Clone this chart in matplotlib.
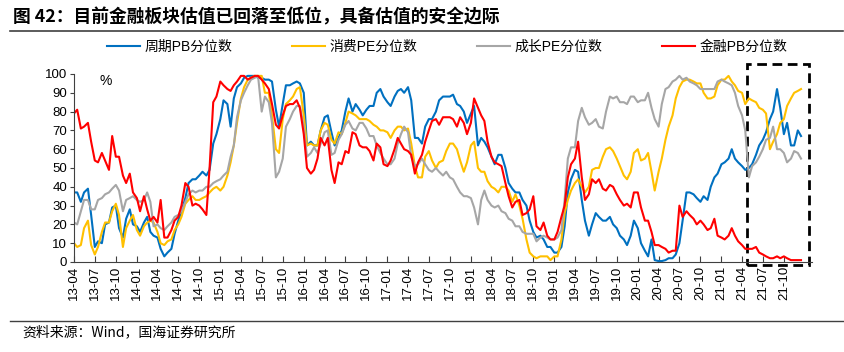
import matplotlib
matplotlib.use('Agg')
import matplotlib.pyplot as plt
import matplotlib.dates as mdates
from matplotlib.patches import Rectangle
from matplotlib.lines import Line2D
import pandas as pd

# 半月度分位数数据（2013-04 起）
blue = [
    37, 37, 32, 37, 39, 25, 8, 11, 10, 20, 21, 29, 30, 18, 13, 23, 28, 20, 19, 16,
    21, 24, 16, 14, 13, 7, 3, 5, 7, 15, 22, 27, 34, 42, 44,
    44, 46, 48, 46, 49, 63, 68, 76, 86, 84, 72, 87, 93, 95, 98, 99, 99, 99, 98, 98,
    97, 97, 96, 81, 72, 84, 94, 94, 95, 96, 95, 90, 62, 64, 62,
    62, 70, 77, 78, 69, 62, 66, 70, 80, 87, 80, 84, 81, 78, 81, 83, 83, 90, 92, 88,
    85, 83, 88, 91, 92, 90, 93, 86, 66, 66, 63, 72, 76, 76, 80,
    86, 88, 88, 88, 89, 84, 83, 80, 74, 79, 83, 62, 66, 64, 61, 56, 52, 57, 57, 50,
    42, 39, 37, 37, 33, 30, 22, 16, 13, 14, 12, 8, 8, 5, 5,
    8, 19, 37, 44, 49, 48, 33, 22, 14, 20, 26, 24, 22, 22, 24, 20, 18, 14, 12, 9,
    14, 22, 18, 10, 6, 3, 12, 1, 0.5, 0.5, 1, 2, 2, 4, 10,
    22, 37, 37, 36, 34, 32, 35, 33, 40, 45, 47, 52, 53, 55, 60, 55, 53, 51, 49, 50,
    52, 57, 62, 65, 69, 76, 80, 92, 82, 68, 74, 62, 62, 70, 67,
]
yellow = [
    10, 8, 9, 18, 22, 9, 4, 8, 16, 21, 21, 27, 31, 25, 8, 18, 22, 25, 17, 14,
    19, 21, 22, 21, 16, 10, 9, 11, 12, 17, 20, 24, 31, 33, 35,
    33, 33, 34, 35, 37, 39, 40, 38, 40, 46, 53, 62, 74, 87, 93, 97, 98, 99, 99, 99,
    90, 90, 78, 60, 58, 76, 84, 86, 88, 92, 93, 78, 62, 63, 62,
    62, 70, 74, 73, 65, 63, 69, 68, 74, 80, 79, 78, 76, 76, 76, 75, 73, 72, 70, 70,
    69, 66, 70, 72, 72, 70, 71, 63, 51, 45, 45, 56, 59, 54, 50,
    53, 54, 59, 63, 63, 60, 54, 48, 53, 62, 64, 50, 48, 48, 43, 40, 39, 37, 40, 40,
    38, 32, 36, 30, 23, 12, 5, 3, 2, 3, 3, 3, 1, 3, 3,
    12, 26, 33, 38, 42, 44, 40, 37, 40, 49, 50, 50, 56, 60, 61, 59, 55, 51, 46, 44,
    48, 58, 60, 54, 55, 58, 48, 38, 48, 55, 65, 72, 78, 87, 93,
    96, 97, 97, 96, 95, 95, 90, 87, 87, 88, 94, 97, 97, 99, 96, 94, 91, 90, 84, 87,
    86, 85, 82, 81, 79, 60, 64, 68, 74, 76, 83, 87, 90, 91, 92,
]
gray = [
    21, 20, 27, 33, 33, 28, 28, 33, 34, 36, 37, 39, 41, 38, 27, 33, 34, 35, 33, 32,
    33, 37, 32, 19, 20, 18, 17, 19, 21, 24, 25, 27, 32, 36, 38,
    37, 38, 38, 40, 40, 42, 43, 44, 46, 48, 56, 62, 77, 86, 90, 94, 97, 98, 99, 80,
    88, 85, 74, 45, 48, 55, 72, 76, 80, 83, 83, 72, 56, 58, 61,
    58, 63, 69, 70, 57, 58, 65, 68, 73, 75, 71, 70, 74, 74, 71, 67, 67, 62, 58, 55,
    52, 52, 55, 63, 68, 72, 69, 56, 51, 52, 55, 52, 49, 48, 50,
    48, 46, 48, 45, 44, 40, 37, 35, 35, 34, 29, 20, 33, 38, 33, 30, 29, 30, 27, 26,
    23, 22, 19, 19, 16, 15, 15, 15, 11, 13, 14, 13, 12, 12, 13,
    17, 33, 55, 61, 61, 75, 82, 77, 73, 74, 76, 72, 71, 80, 88, 87, 88, 85, 85, 84,
    88, 88, 85, 86, 86, 90, 82, 76, 72, 84, 92, 93, 96, 97, 99,
    97, 98, 96, 95, 94, 92, 92, 92, 92, 92, 96, 97, 96, 95, 94, 90, 83, 78, 70, 45,
    51, 53, 56, 60, 65, 66, 72, 60, 60, 58, 53, 55, 59, 58, 55,
]
red = [
    79, 81, 71, 72, 74, 64, 54, 53, 58, 54, 49, 67, 56, 56, 46, 42, 47, 37, 34, 27,
    35, 28, 22, 24, 21, 33, 13, 13, 17, 22, 24, 30, 42, 40, 30,
    31, 30, 28, 25, 50, 85, 88, 96, 94, 92, 91, 94, 96, 99, 99, 97, 98, 99, 99, 97,
    95, 92, 84, 73, 71, 78, 83, 84, 84, 86, 82, 68, 50, 47, 49,
    55, 66, 62, 66, 49, 42, 53, 52, 59, 58, 69, 68, 62, 61, 61, 59, 54, 63, 61, 52,
    51, 54, 60, 66, 63, 60, 59, 57, 47, 53, 57, 64, 70, 75, 76,
    73, 77, 77, 77, 76, 72, 77, 74, 68, 74, 87, 82, 78, 75, 64, 56, 53, 52, 51, 42,
    35, 29, 32, 33, 25, 26, 28, 35, 19, 17, 21, 14, 12, 12, 16,
    24, 30, 45, 52, 55, 64, 45, 33, 36, 44, 42, 44, 39, 38, 41, 40, 36, 33, 30, 31,
    29, 37, 37, 29, 22, 22, 16, 9, 9, 8, 7, 5, 6, 6, 30,
    24, 27, 25, 23, 20, 22, 20, 17, 18, 23, 14, 13, 12, 14, 18, 14, 11, 9, 7, 7,
    7, 8, 5, 4, 3, 2, 2, 3, 2, 3, 2, 1, 1, 1, 1,
]
names = ['周期PB分位数', '消费PE分位数', '成长PE分位数', '金融PB分位数']
colors = ['#0070C0', '#FFC000', '#A6A6A6', '#FF0000']

dates = pd.date_range('2013-04-01', periods=len(blue), freq='SMS')
tick_dates = pd.date_range('2013-04-01', '2021-10-01', freq='QS')

plt.rcParams['font.family'] = ['Liberation Sans', 'Noto Sans CJK SC']

fig = plt.figure(figsize=(8.45, 3.52), dpi=100)
ax = fig.add_axes([74 / 845, 90 / 352, 738 / 845, 188 / 352])

for vals, name, c in zip([blue, yellow, gray, red], names, colors):
    ax.plot(dates, vals, color=c, lw=1.5, label=name)

ax.set_ylim(0, 100)
ax.set_xlim(dates[0], pd.Timestamp('2022-02-01'))
ax.set_yticks(range(0, 101, 10))
ax.set_xticks(tick_dates)
ax.set_xticklabels([d.strftime('%y-%m') for d in tick_dates], rotation=90)
for s in ['top', 'right']:
    ax.spines[s].set_visible(False)
for s in ['left', 'bottom']:
    ax.spines[s].set_color('#404040')
ax.tick_params(axis='x', direction='in', length=4, labelsize=9.5, pad=3, color='#404040')
ax.tick_params(axis='y', direction='out', length=3, labelsize=9.5, pad=2, color='#404040')
ax.text(0.035, 0.965, '%', transform=ax.transAxes, fontsize=10, va='center')

# 虚线框
x0 = mdates.date2num(pd.Timestamp('2021-04-23'))
x1 = mdates.date2num(pd.Timestamp('2022-01-21'))
ax.add_patch(Rectangle((x0, -1.6), x1 - x0, 107, fill=False, ec='black', lw=2,
                       ls=(0, (3.5, 2)), clip_on=False))

fig.legend(loc='center', bbox_to_anchor=(0.529, 0.866), ncol=4, frameon=False,
           fontsize=10, handlelength=2.4, handletextpad=0.3, columnspacing=4.3)

fig.text(0.015, 0.952, '图 42：目前金融板块估值已回落至低位，具备估值的安全边际',
         fontsize=12.8, fontweight='bold', va='center', family=['Noto Sans CJK SC'])
fig.add_artist(Line2D([0.012, 0.998], [1 - 31 / 352] * 2, color='#404040', lw=1.2))
fig.add_artist(Line2D([0.012, 0.998], [1 - 321 / 352] * 2, color='#404040', lw=1.0))
fig.text(0.026, 1 - 332 / 352, '资料来源：Wind，国海证券研究所', fontsize=10, va='center',
         family=['Noto Sans CJK SC'])

fig.savefig('out.png', dpi=100)
